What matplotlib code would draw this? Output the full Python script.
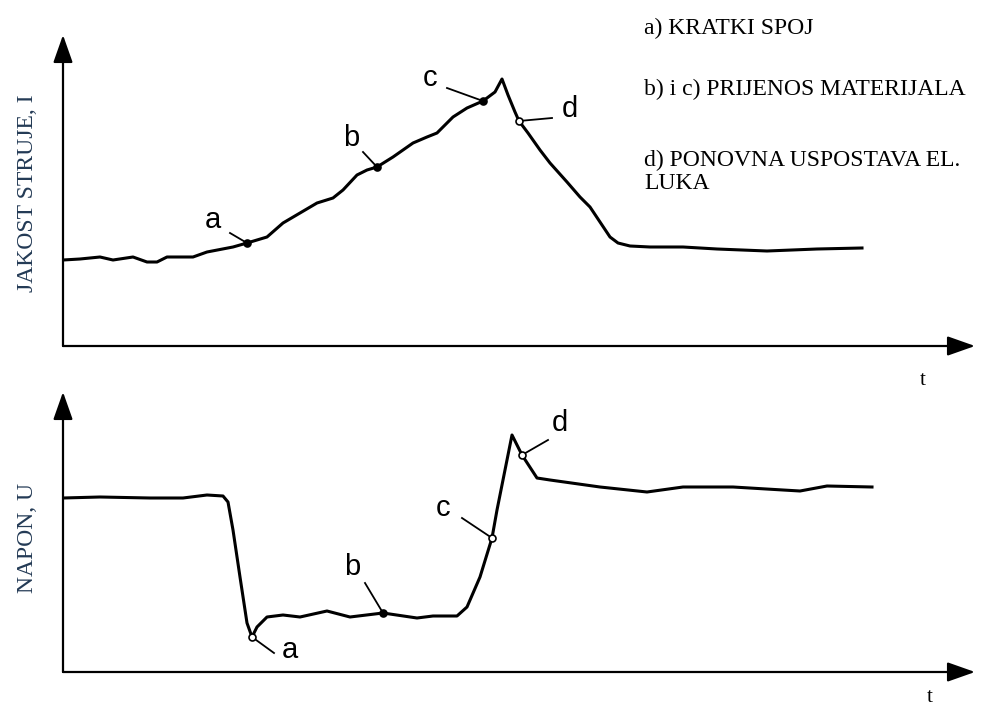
import numpy as np
import matplotlib.pyplot as plt

plt.rcParams['font.family'] = ['Liberation Serif', 'DejaVu Serif']

# vrijeme t i jakost struje I (proizvoljne jedinice, očitano sa slike)
t_struja = [0, 17, 37, 50, 70, 84, 94, 104, 130, 144, 170, 184, 204, 220, 237,
            254, 270, 280, 294, 304, 314, 330, 350, 364, 374, 390, 404, 420,
            432, 439, 445, 452, 456, 465, 477, 487, 504, 517, 527, 537, 547,
            555, 567, 587, 620, 654, 704, 754, 799]
struja = [86, 87, 89, 86, 89, 84, 84, 89, 89, 94, 99, 103, 109, 123, 133,
          143, 148, 156, 171, 176, 179, 189, 203, 209, 213, 229, 238, 245,
          254, 267, 251, 234, 225, 213, 196, 183, 164, 149, 139, 124, 109,
          103, 100, 99, 99, 97, 95, 97, 98]

# vrijeme t i napon U
t_napon = [0, 37, 87, 120, 144, 160, 165, 170, 177, 184, 189, 194, 204, 220, 237,
           264, 287, 320, 354, 370, 394, 404, 417, 429, 434, 449, 459, 474, 487,
           537, 584, 620, 670, 720, 737, 764, 809]
napon = [174, 175, 174, 174, 177, 176, 170, 142, 95, 49, 35, 45, 55, 57, 55,
         61, 55, 59, 54, 56, 56, 65, 95, 134, 162, 237, 217, 194, 192, 185,
         180, 185, 185, 182, 181, 186, 185]

# oznake a, b, c, d: (t, vrijednost, popunjena)
tocke_struja = {'a': (184, 103, True), 'b': (314, 179, True),
                'c': (420, 245, True), 'd': (456, 225, False)}
tocke_napon = {'a': (189, 35, False), 'b': (320, 59, True),
               'c': (429, 134, False), 'd': (459, 217, False)}

legenda = ['a) KRATKI SPOJ', 'b) i c) PRIJENOS MATERIJALA',
           'd) PONOVNA USPOSTAVA EL.\nLUKA']

fig = plt.figure(figsize=(9.81, 7.09), dpi=100)
ax1 = fig.add_axes([63 / 981, 1 - 346 / 709, 912 / 981, 311 / 709])
ax2 = fig.add_axes([63 / 981, 1 - 672 / 709, 912 / 981, 280 / 709])
ax1.set_xlim(0, 912)
ax1.set_ylim(0, 311)
ax2.set_xlim(0, 912)
ax2.set_ylim(0, 280)

for ax in (ax1, ax2):
    for s in ax.spines.values():
        s.set_visible(False)
    ax.set_xticks([])
    ax.set_yticks([])
    ax.patch.set_alpha(0)
    strelica = dict(arrowstyle='-|>,head_length=1.7,head_width=0.6', color='black',
                    lw=1.6, mutation_scale=10, shrinkA=0, shrinkB=0)
    ax.annotate('', xy=(1, 0), xytext=(0, 0), xycoords='axes fraction',
                arrowprops=strelica)
    ax.annotate('', xy=(0, 1), xytext=(0, 0), xycoords='axes fraction',
                arrowprops=strelica)

ax1.plot(t_struja, struja, color='black', lw=2.2, solid_joinstyle='round')
ax2.plot(t_napon, napon, color='black', lw=2.2, solid_joinstyle='round')

# položaji slova oznaka (pomak od točke)
pomak_struja = {'a': (-34, 23), 'b': (-26, 29), 'c': (-53, 23), 'd': (51, 12)}
pomak_napon = {'a': (38, -13), 'b': (-31, 46), 'c': (-49, 30), 'd': (38, 32)}
linija_struja = {'a': (-17, 10), 'b': (-14, 15), 'c': (-36, 13), 'd': (33, 3)}
linija_napon = {'a': (22, -16), 'b': (-18, 30), 'c': (-30, 20), 'd': (26, 15)}

for ax, tocke, pomak, linija in ((ax1, tocke_struja, pomak_struja, linija_struja),
                                 (ax2, tocke_napon, pomak_napon, linija_napon)):
    for slovo, (tx, vy, puna) in tocke.items():
        lx, ly = linija[slovo]
        ax.plot([tx, tx + lx], [vy, vy + ly], color='black', lw=1.3)
        ax.plot(tx, vy, 'o', ms=5, mec='black', mew=1.2,
                mfc='black' if puna else 'white', zorder=5)
        px, py = pomak[slovo]
        ax.text(tx + px, vy + py, slovo, fontsize=21, family='Liberation Sans',
                ha='center', va='center')

ax1.set_ylabel('JAKOST STRUJE, I', fontsize=17, color='#233a55')
ax1.yaxis.set_label_coords(-0.027, 0.49)
ax2.set_ylabel('NAPON, U', fontsize=17, color='#233a55')
ax2.yaxis.set_label_coords(-0.027, 0.48)

fig.text(923 / 981, 1 - 380 / 709, 't', fontsize=15, ha='center', va='center')
fig.text(930 / 981, 1 - 697 / 709, 't', fontsize=15, ha='center', va='center')

for i, tekst in enumerate(legenda):
    fig.text(644 / 981, 1 - (28 + 61 * i) / 709, tekst, fontsize=17,
             ha='left', va='center' if i < 2 else 'top', linespacing=1.1)

fig.savefig('out.png', dpi=100)
